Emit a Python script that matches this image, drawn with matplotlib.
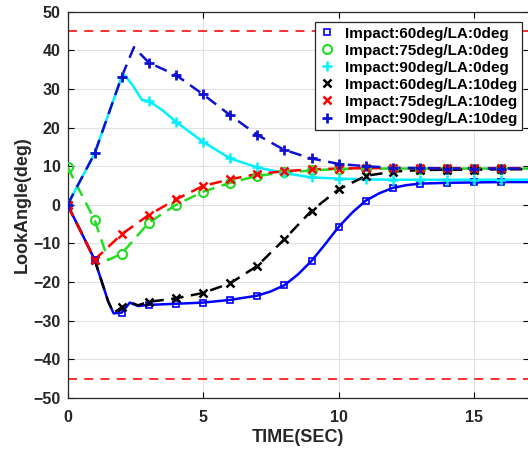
import numpy as np
import matplotlib
matplotlib.use("Agg")
import matplotlib.pyplot as plt

plt.rcParams['font.family'] = ['Liberation Sans', 'DejaVu Sans']
plt.rcParams['font.weight'] = 'bold'

# ---- data ----
labels = ["Impact:60deg/LA:0deg", "Impact:75deg/LA:0deg", "Impact:90deg/LA:0deg",
          "Impact:60deg/LA:10deg", "Impact:75deg/LA:10deg", "Impact:90deg/LA:10deg"]

t_60_0 = [0, 0.5, 1, 1.5, 1.7, 2, 2.3, 2.6, 3, 4, 5, 6, 7, 7.5, 8, 8.5, 9, 9.5, 10, 10.5, 11, 11.5, 12, 12.5, 13, 14, 15, 16, 17]
v_60_0 = [0, -7.0, -14.2, -25.0, -28.1, -27.9, -25.3, -26.2, -25.9, -25.6, -25.3, -24.6, -23.5, -22.4, -20.8, -18.0, -14.5, -10.2, -5.7, -2.0, 1.1, 3.0, 4.4, 5.1, 5.5, 5.7, 5.8, 5.9, 5.9]

t_75_0 = [0, 1, 1.5, 2, 3, 4, 5, 6, 7, 8, 9, 10, 11, 12, 13, 14, 15, 16, 17]
v_75_0 = [9.8, -3.9, -14.3, -12.6, -4.6, 0.0, 3.4, 5.7, 7.5, 8.4, 8.9, 9.3, 9.4, 9.4, 9.4, 9.4, 9.4, 9.4, 9.4]

t_90_0 = [0, 1, 2, 2.1, 2.4, 2.75, 3, 3.5, 4, 5, 6, 7, 8, 9, 10, 11, 12, 13, 14, 15, 16, 17]
v_90_0 = [0, 13.3, 33.2, 33.6, 31.0, 27.1, 26.9, 24.5, 21.5, 16.3, 12.0, 9.7, 8.2, 7.1, 6.8, 6.6, 6.5, 6.5, 6.5, 6.5, 6.5, 6.5]

t_60_10 = [0, 0.5, 1, 1.5, 1.7, 2, 2.3, 2.6, 3, 4, 5, 6, 7, 8, 9, 10, 11, 12, 13, 14, 15, 16, 17]
v_60_10 = [0, -7.0, -14.2, -25.0, -28.0, -26.5, -25.2, -26.0, -25.1, -24.2, -22.8, -20.3, -15.8, -8.9, -1.5, 4.0, 7.5, 8.6, 9.0, 9.1, 9.1, 9.2, 9.2]

t_75_10 = [0, 1, 2, 3, 4, 5, 6, 7, 8, 9, 10, 11, 12, 13, 14, 15, 16, 17]
v_75_10 = [0, -14.2, -7.6, -2.6, 1.4, 4.9, 6.6, 8.0, 8.7, 9.2, 9.4, 9.5, 9.5, 9.5, 9.5, 9.5, 9.5, 9.5]

t_90_10 = [0, 1, 2, 2.45, 3, 4, 5, 6, 7, 8, 9, 10, 11, 12, 13, 14, 15, 16, 17]
v_90_10 = [0, 13.3, 33.2, 40.8, 36.8, 33.6, 28.6, 23.2, 18.1, 14.2, 12.0, 10.6, 10.0, 9.6, 9.5, 9.4, 9.4, 9.4, 9.4]

limits = [45, -45]
x_ticks = [0, 5, 10, 15]
y_ticks = [-50, -40, -30, -20, -10, 0, 10, 20, 30, 40, 50]

series = [
    (t_60_0, v_60_0, '#0000ff', '-', 's', 5, 1.2, 'none'),
    (t_75_0, v_75_0, '#22dd22', '--', 'o', 6.5, 1.5, 'none'),
    (t_90_0, v_90_0, '#00f0ff', '-', '+', 7, 1.8, None),
    (t_60_10, v_60_10, '#000000', '--', 'x', 5.5, 1.8, None),
    (t_75_10, v_75_10, '#ff0000', '--', 'x', 5.5, 1.8, None),
    (t_90_10, v_90_10, '#1010d0', '--', '+', 7, 2.0, None),
]

fig = plt.figure(figsize=(5.28, 4.51), dpi=100)
ax = fig.add_axes([67.5/528, 1-398/451, (528.5-67.5)/528, (398-11.7)/451])

for yl in limits:
    ax.axhline(yl, color='#ff2020', lw=1.3, dashes=(5, 4), zorder=2)

for (t, v, c, ls, m, ms, mew, mfc), lab in zip(series, labels):
    t = np.asarray(t, float)
    v = np.asarray(v, float)
    if ls == '--':
        ax.plot(t, v, color=c, lw=1.8, dashes=(5, 3), zorder=3)
    else:
        ax.plot(t, v, color=c, lw=1.8, zorder=3)
    mask = (np.abs(t - np.round(t)) < 1e-9) & (t <= 16)
    ax.plot(t[mask], v[mask], linestyle='none', marker=m, ms=ms, mew=mew,
            color=c, mfc=(mfc if mfc else c), label=lab, zorder=4)

ax.set_xlim(0, 17)
ax.set_ylim(-50, 50)
ax.set_xticks(x_ticks)
ax.set_yticks(y_ticks)
ax.grid(True, color='#e2e2e2', lw=0.8)
ax.set_axisbelow(True)
ax.tick_params(direction='in', length=4, labelsize=11.5, top=True, right=True)
ax.tick_params(axis='x', pad=8.5)
ax.tick_params(axis='y', pad=5)
for lbl in ax.get_xticklabels() + ax.get_yticklabels():
    lbl.set_fontweight('bold')
    lbl.set_color('#262626')
for s in ax.spines.values():
    s.set_color('#262626')
    s.set_linewidth(0.9)

ax.set_xlabel('TIME(SEC)', fontsize=13, fontweight='bold', color='#262626', labelpad=3)
ax.set_ylabel('LookAngle(deg)', fontsize=13, fontweight='bold', color='#262626', labelpad=1.5)

leg = ax.legend(loc='upper right', bbox_to_anchor=(522/528, 1-22/451),
                bbox_transform=fig.transFigure, borderaxespad=0,
                prop={'weight': 'bold', 'size': 11}, handlelength=1.0,
                handletextpad=0.7, labelspacing=0.2, borderpad=0.3,
                fancybox=False, framealpha=1, edgecolor='#262626')
leg.get_frame().set_linewidth(0.9)

fig.savefig('out.png', dpi=100)
